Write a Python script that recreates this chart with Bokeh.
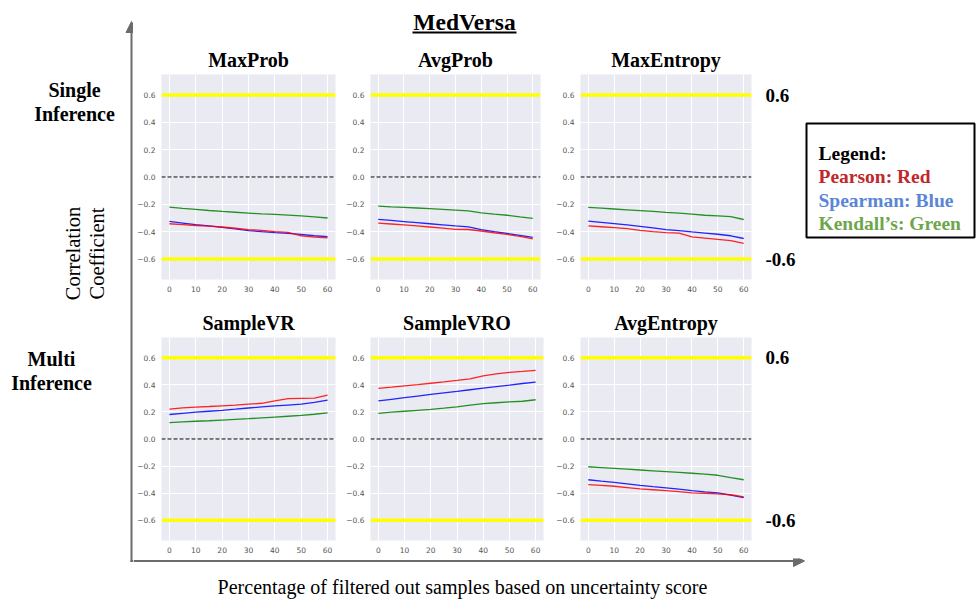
import math
from bokeh.plotting import figure
from bokeh.layouts import row, column
from bokeh.models import (Range1d, FixedTicker, Span, Arrow, NormalHead, LinearAxis,
                          CustomJSTickFormatter)
from bokeh.core.properties import value
from bokeh.embed import file_html
from bokeh.resources import INLINE

# ---------------- data ----------------
x_pct = [0, 5, 10, 15, 20, 25, 30, 35, 40, 45, 50, 55, 60]

maxprob_pearson = [-0.342, -0.348, -0.355, -0.360, -0.366, -0.375, -0.385, -0.390, -0.400, -0.405, -0.430, -0.440, -0.445]
maxprob_spearman = [-0.325, -0.337, -0.349, -0.358, -0.368, -0.380, -0.392, -0.400, -0.407, -0.413, -0.420, -0.430, -0.437]
maxprob_kendall = [-0.220, -0.230, -0.237, -0.245, -0.252, -0.258, -0.264, -0.270, -0.274, -0.279, -0.285, -0.292, -0.300]

avgprob_pearson = [-0.338, -0.344, -0.350, -0.358, -0.366, -0.374, -0.383, -0.384, -0.395, -0.408, -0.420, -0.435, -0.452]
avgprob_spearman = [-0.310, -0.318, -0.326, -0.334, -0.342, -0.350, -0.358, -0.365, -0.385, -0.400, -0.413, -0.427, -0.441]
avgprob_kendall = [-0.213, -0.218, -0.222, -0.227, -0.232, -0.237, -0.242, -0.248, -0.262, -0.272, -0.280, -0.292, -0.303]

maxent_pearson = [-0.358, -0.364, -0.370, -0.378, -0.390, -0.400, -0.407, -0.411, -0.438, -0.447, -0.457, -0.465, -0.486]
maxent_spearman = [-0.323, -0.332, -0.341, -0.351, -0.361, -0.373, -0.385, -0.393, -0.402, -0.410, -0.419, -0.430, -0.450]
maxent_kendall = [-0.222, -0.228, -0.234, -0.240, -0.246, -0.252, -0.259, -0.265, -0.272, -0.280, -0.284, -0.290, -0.311]

samplevr_pearson = [0.221, 0.230, 0.236, 0.240, 0.245, 0.250, 0.257, 0.264, 0.281, 0.298, 0.300, 0.302, 0.324]
samplevr_spearman = [0.181, 0.190, 0.198, 0.205, 0.212, 0.220, 0.229, 0.237, 0.245, 0.251, 0.257, 0.270, 0.288]
samplevr_kendall = [0.121, 0.126, 0.131, 0.135, 0.140, 0.145, 0.150, 0.156, 0.162, 0.168, 0.174, 0.183, 0.193]

samplevro_pearson = [0.374, 0.383, 0.393, 0.402, 0.412, 0.422, 0.433, 0.445, 0.467, 0.481, 0.492, 0.499, 0.507]
samplevro_spearman = [0.281, 0.293, 0.305, 0.317, 0.329, 0.341, 0.352, 0.364, 0.376, 0.387, 0.398, 0.410, 0.421]
samplevro_kendall = [0.190, 0.198, 0.205, 0.212, 0.219, 0.228, 0.238, 0.250, 0.262, 0.268, 0.274, 0.279, 0.290]

avgent_pearson = [-0.337, -0.343, -0.349, -0.359, -0.369, -0.375, -0.381, -0.389, -0.398, -0.401, -0.405, -0.412, -0.427]
avgent_spearman = [-0.301, -0.311, -0.320, -0.331, -0.342, -0.352, -0.361, -0.371, -0.381, -0.390, -0.398, -0.415, -0.434]
avgent_kendall = [-0.205, -0.211, -0.217, -0.223, -0.229, -0.235, -0.241, -0.247, -0.253, -0.260, -0.268, -0.285, -0.301]

panel_titles = ["MaxProb", "AvgProb", "MaxEntropy", "SampleVR", "SampleVRO", "AvgEntropy"]
panel_series = [
    (maxprob_pearson, maxprob_spearman, maxprob_kendall),
    (avgprob_pearson, avgprob_spearman, avgprob_kendall),
    (maxent_pearson, maxent_spearman, maxent_kendall),
    (samplevr_pearson, samplevr_spearman, samplevr_kendall),
    (samplevro_pearson, samplevro_spearman, samplevro_kendall),
    (avgent_pearson, avgent_spearman, avgent_kendall),
]
threshold_levels = [0.6, -0.6]
y_ticks = [-0.6, -0.4, -0.2, 0.0, 0.2, 0.4, 0.6]
x_ticks = [0, 10, 20, 30, 40, 50, 60]

main_title = "MedVersa"
row_labels = [["Single", "Inference"], ["Multi", "Inference"]]
ylabel_lines = ["Correlation", "Coefficient"]
xlabel = "Percentage of filtered out samples based on uncertainty score"
legend_lines = ["Legend:", "Pearson: Red", "Spearman: Blue", "Kendall\u2019s: Green"]

# ---------------- layout (pixels) ----------------
SERIF = "Liberation Serif"
ARROW = "#6b6b6b"


def canvas(w, h):
    f = figure(width=w, height=h, x_range=Range1d(0, w), y_range=Range1d(h, 0),
               toolbar_location=None, output_backend="svg",
               x_axis_location=None, y_axis_location=None)
    f.min_border = 0
    f.min_border_left = f.min_border_right = f.min_border_top = f.min_border_bottom = 0
    f.grid.visible = False
    f.outline_line_color = None
    f.background_fill_color = None
    f.border_fill_color = None
    return f


# left strip: row labels, y label, vertical arrow
L = canvas(133, 599)
L.add_layout(Arrow(end=NormalHead(size=11, fill_color=ARROW, line_color=ARROW),
                   x_start=131, y_start=561.5, x_end=131, y_end=21,
                   line_color=ARROW, line_width=2))
L.segment(x0=[130], x1=[133], y0=[560.5], y1=[560.5], line_color=ARROW, line_width=2)
L.text(x=[74, 74], y=[89, 113], text=row_labels[0], text_font=value(SERIF), text_font_style="bold",
       text_font_size="20px", text_align="center", text_baseline="middle", text_color="black")
L.text(x=[51, 51], y=[358, 382], text=row_labels[1], text_font=value(SERIF), text_font_style="bold",
       text_font_size="20px", text_align="center", text_baseline="middle", text_color="black")
L.text(x=[72, 96], y=[253, 253], text=ylabel_lines, text_font=value(SERIF),
       text_font_size="20.5px", text_align="center", text_baseline="middle",
       angle=math.pi / 2, text_color="black")

# top strip: main title
T = canvas(665, 40)
T.text(x=[331], y=[21], text=[main_title], text_font=value(SERIF), text_font_style="bold",
       text_font_size="23.5px", text_align="center", text_baseline="middle", text_color="black")
T.segment(x0=[279], x1=[383], y0=[32], y1=[32], line_color="black", line_width=2)

# right strip: legend
Rt = canvas(178, 558)
Rt.quad(left=[8], right=[176], top=[123], bottom=[237], fill_color="white",
        line_color="black", line_width=2)
legend_colors = ["black", "#c0282a", "#5b86d6", "#6fa64c"]
Rt.text(x=[20] * 4, y=[153, 176, 200, 223], text=legend_lines, text_color=legend_colors,
        text_font=value(SERIF), text_font_style="bold", text_font_size="19.5px",
        text_align="left", text_baseline="middle")

# bottom strip: horizontal arrow + x label
B = canvas(843, 41)
B.add_layout(Arrow(end=NormalHead(size=11, fill_color=ARROW, line_color=ARROW),
                   x_start=0, y_start=2.5, x_end=671, y_end=2.5,
                   line_color=ARROW, line_width=2))
B.text(x=[329], y=[28], text=[xlabel], text_font=value(SERIF), text_font_size="20px",
       text_align="center", text_baseline="middle", text_color="black")

# subplot canvases: (canvas w, h, border left, top, right, bottom, title offset, right labels)
subplot_layout = [
    (210, 260, 28, 33, 8, 19, -1, False),
    (210, 260, 25, 32, 13, 21, -2, False),
    (245, 260, 24, 34, 46, 17, -2, True),
    (210, 258, 28, 33, 8, 16, -5, False),
    (210, 258, 25, 32, 10, 18, 9, False),
    (245, 258, 25, 37, 46, 14, 0, True),
]

line_colors = ["red", "blue", "green"]
subplots = []
for title, series, (w, h, bl, bt, br, bb, toff, rlab) in zip(panel_titles, panel_series, subplot_layout):
    p = figure(width=w, height=h, x_range=Range1d(-3, 63), y_range=Range1d(-0.75, 0.75),
               toolbar_location=None, output_backend="svg", title=title)
    p.min_border_left = bl
    p.min_border_top = bt
    p.min_border_right = br
    p.min_border_bottom = bb
    p.border_fill_color = None
    p.background_fill_color = "#EAEAF2"
    p.outline_line_color = None
    p.title.text_font = SERIF
    p.title.text_font_style = "bold"
    p.title.text_font_size = "20px"
    p.title.text_color = "black"
    p.title.align = "center"
    p.title.standoff = 8
    p.title.offset = toff
    p.xaxis.ticker = FixedTicker(ticks=x_ticks)
    p.yaxis.ticker = FixedTicker(ticks=y_ticks)
    p.yaxis.formatter = CustomJSTickFormatter(code="return tick.toFixed(1).replace('-', '\\u2212');")
    for ax in (p.xaxis, p.yaxis):
        ax.axis_line_color = None
        ax.major_tick_line_color = None
        ax.minor_tick_line_color = None
        ax.major_tick_out = 0
        ax.major_tick_in = 0
        ax.minor_tick_out = 0
        ax.minor_tick_in = 0
        ax.major_label_text_font = "DejaVu Sans"
        ax.major_label_text_font_size = "7.5px"
        ax.major_label_text_color = "#555555"
        ax.major_label_standoff = 6
    if rlab:
        ra = LinearAxis(ticker=FixedTicker(ticks=threshold_levels),
                        formatter=CustomJSTickFormatter(code="return tick.toFixed(1);"))
        ra.axis_line_color = None
        ra.major_tick_line_color = None
        ra.minor_tick_line_color = None
        ra.major_tick_out = 0
        ra.major_tick_in = 0
        ra.minor_tick_out = 0
        ra.minor_tick_in = 0
        ra.major_label_text_font = SERIF
        ra.major_label_text_font_style = "bold"
        ra.major_label_text_font_size = "19px"
        ra.major_label_text_color = "black"
        ra.major_label_standoff = 14
        p.add_layout(ra, "right")
    p.grid.grid_line_color = "white"
    p.grid.grid_line_width = 1
    for lvl in threshold_levels:
        p.add_layout(Span(location=lvl, dimension="width", line_color="#FFFF00", line_width=3.5))
    p.add_layout(Span(location=0, dimension="width", line_color="black", line_width=1.1,
                      line_dash="4 2"))
    pear, spear, kend = series
    p.line(x_pct, kend, line_color=line_colors[2], line_width=1.3, line_alpha=0.85)
    p.line(x_pct, spear, line_color=line_colors[1], line_width=1.3, line_alpha=0.85)
    p.line(x_pct, pear, line_color=line_colors[0], line_width=1.3, line_alpha=0.85)
    subplots.append(p)

R1 = row(subplots[0], subplots[1], subplots[2], spacing=0)
R2 = row(subplots[3], subplots[4], subplots[5], spacing=0)
middle = column(T, R1, R2, spacing=0)
upper = row(middle, Rt, spacing=0)
right_part = column(upper, B, spacing=0)
root = row(L, right_part, spacing=0)

open("out.html", "w").write(file_html(root, INLINE))
